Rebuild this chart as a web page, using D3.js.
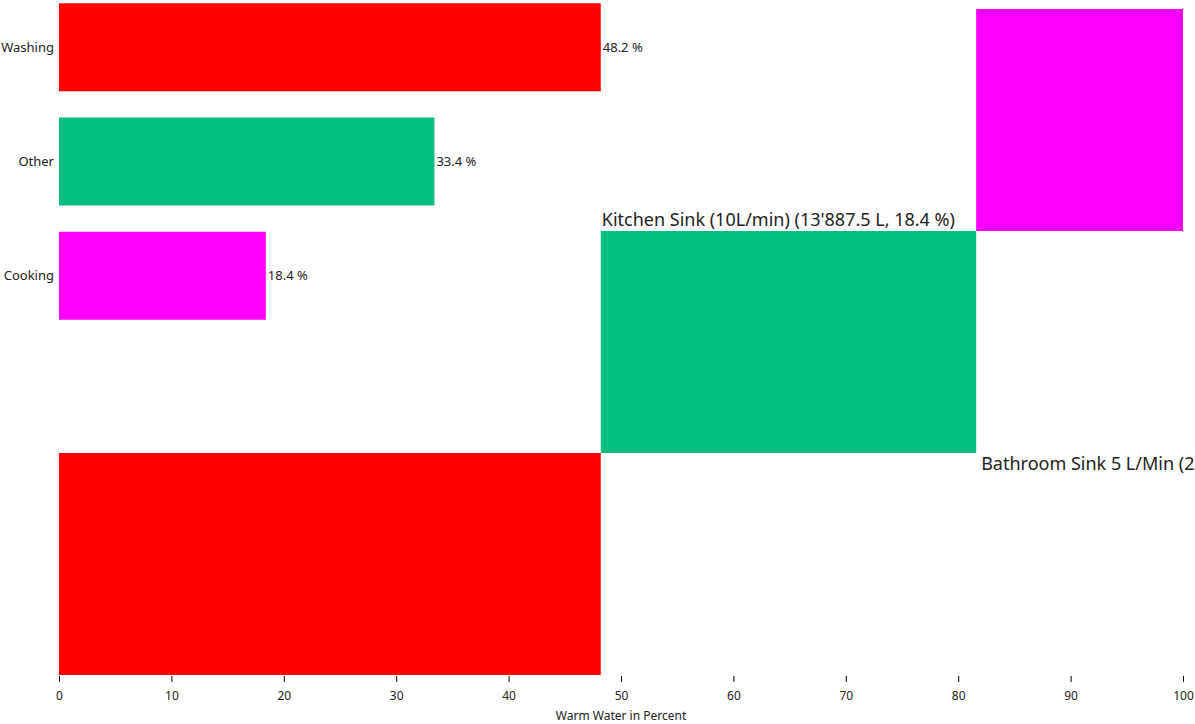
<!DOCTYPE html>
<html>
<head>
<meta charset="utf-8">
<script src="https://cdn.jsdelivr.net/npm/d3@7"></script>
<style>
  body { margin: 0; background: #fff; }
  text { font-family: "Segoe UI", "Noto Sans", sans-serif; fill: #222; }
</style>
</head>
<body>
<script>
var width = 1195;
var height = 724;
var margin = {top: 9, left: 59, bottom: 49, right: 12};

// data
var categories = ["Washing", "Other", "Cooking"];
var shares = [48.2, 33.4, 18.4];
var colors = ["#ff0000", "#02bf80", "#ff00ff"];
var stepLabels = ["Kitchen Sink (10L/min) (13'887.5 L, 18.4 %)", "Bathroom Sink 5 L/Min (25'215.0 L, 33.4 %)"];
var stepLabelAt = [1, 2]; // index of the block where each label starts
var xTicks = [0, 10, 20, 30, 40, 50, 60, 70, 80, 90, 100];

var svg = d3.select("body")
  .append("svg")
  .attr("width", width)
  .attr("height", height);

var x = d3.scaleLinear()
  .domain([0, 100])
  .range([margin.left, width - margin.right]);

// top bars
var yBar = d3.scaleBand()
  .domain(categories)
  .range([-23, 346])
  .paddingInner(0.23)
  .paddingOuter(0.23);

var bars = svg.append("g").attr("class", "bars");

bars.selectAll("rect")
  .data(categories)
  .enter()
  .append("rect")
  .attr("x", x(0))
  .attr("y", d => yBar(d))
  .attr("width", (d, i) => x(shares[i]) - x(0))
  .attr("height", yBar.bandwidth())
  .attr("fill", (d, i) => colors[i]);

bars.selectAll("text.cat")
  .data(categories)
  .enter()
  .append("text")
  .attr("class", "cat")
  .attr("x", x(0) - 5)
  .attr("y", d => yBar(d) + yBar.bandwidth() / 2)
  .attr("dy", "0.35em")
  .attr("text-anchor", "end")
  .attr("font-size", 13)
  .text(d => d);

bars.selectAll("text.val")
  .data(categories)
  .enter()
  .append("text")
  .attr("class", "val")
  .attr("x", (d, i) => x(shares[i]) + 2)
  .attr("y", d => yBar(d) + yBar.bandwidth() / 2)
  .attr("dy", "0.35em")
  .attr("font-size", 13)
  .text((d, i) => shares[i] + " %");

// cumulative step blocks
var starts = [];
shares.reduce(function(acc, v, i) { starts[i] = acc; return acc + v; }, 0);

var yStep = d3.scaleBand()
  .domain(categories.slice().reverse())
  .range([margin.top, height - margin.bottom]);

var steps = svg.append("g").attr("class", "steps");

steps.selectAll("rect")
  .data(categories)
  .enter()
  .append("rect")
  .attr("x", (d, i) => x(starts[i]))
  .attr("y", d => yStep(d))
  .attr("width", (d, i) => x(starts[i] + shares[i]) - x(starts[i]))
  .attr("height", yStep.bandwidth())
  .attr("fill", (d, i) => colors[i]);

steps.selectAll("text")
  .data(stepLabels)
  .enter()
  .append("text")
  .attr("x", (d, i) => x(starts[stepLabelAt[i]]) + (i == 0 ? 1 : 5))
  .attr("y", (d, i) => i == 0 ? yStep(categories[stepLabelAt[i]]) - 5
                              : yStep(categories[stepLabelAt[i] - 1]) + yStep.bandwidth() + 17)
  .attr("font-size", 18)
  .text(d => d);

// axis
var xAxis = d3.axisBottom(x)
  .tickValues(xTicks)
  .tickSize(6)
  .tickPadding(9);

var axisG = svg.append("g")
  .attr("transform", "translate(0," + (height - margin.bottom + 1) + ")")
  .call(xAxis);

axisG.select(".domain").remove();
axisG.selectAll("text")
  .attr("font-size", 12)
  .attr("font-family", "'Segoe UI', 'Noto Sans', sans-serif")
  .attr("fill", "#222");

svg.append("text")
  .attr("x", (x(0) + x(100)) / 2)
  .attr("y", height - 4)
  .attr("text-anchor", "middle")
  .attr("font-size", 12)
  .text("Warm Water in Percent");
</script>
</body>
</html>
